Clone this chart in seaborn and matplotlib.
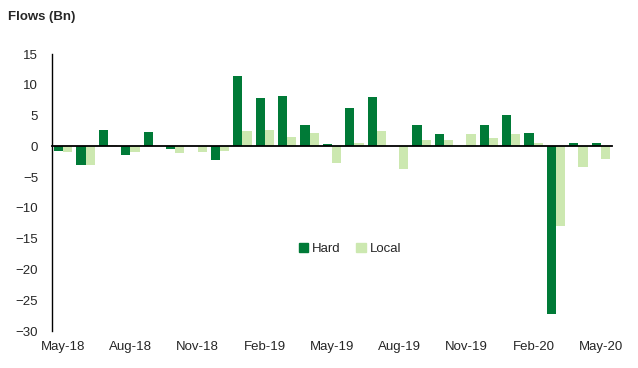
import numpy as np
import pandas as pd
import matplotlib
matplotlib.use("Agg")
import matplotlib.pyplot as plt
import matplotlib.transforms as mtransforms
import seaborn as sns

# Datos (flujos mensuales, miles de millones)
months = ["May-18", "Jun-18", "Jul-18", "Aug-18", "Sep-18", "Oct-18", "Nov-18",
          "Dec-18", "Jan-19", "Feb-19", "Mar-19", "Apr-19", "May-19", "Jun-19",
          "Jul-19", "Aug-19", "Sep-19", "Oct-19", "Nov-19", "Dec-19", "Jan-20",
          "Feb-20", "Mar-20", "Apr-20", "May-20"]
hard = [-0.75, -3.0, 2.65, -1.4, 2.3, -0.45, 0.0, -2.25, 11.4, 7.8, 8.2, 3.5, 0.4,
        6.2, 8.0, 0.0, 3.4, 1.95, 0.0, 3.4, 5.05, 2.1, -27.3, 0.5, 0.5]
local = [-1.0, -3.0, 0.15, -1.0, 0.0, -1.15, -0.92, -0.8, 2.5, 2.65, 1.5, 2.15, -2.7,
         0.55, 2.5, -3.7, 1.0, 1.0, 1.95, 1.3, 1.95, 0.5, -13.0, -3.35, -2.1]
tick_labels = ["May-18", "Aug-18", "Nov-18", "Feb-19", "May-19", "Aug-19",
               "Nov-19", "Feb-20", "May-20"]

df = pd.DataFrame({"month": months * 2,
                   "value": hard + local,
                   "type": ["Hard"] * len(months) + ["Local"] * len(months)})

sns.set_style("white")
plt.rcParams["font.family"] = ["Liberation Sans", "DejaVu Sans"]

fig = plt.figure(figsize=(6.38, 3.68), dpi=100)
ax = fig.add_axes([52 / 638, 1 - 331 / 368, 560 / 638, 277 / 368])

sns.barplot(data=df, x="month", y="value", hue="type", order=months,
            palette={"Hard": "#007A37", "Local": "#CCE8B0"},
            width=0.82, saturation=1, linewidth=0, ax=ax, legend=False)

ax.set_xlim(-0.5, len(months) - 0.5)
ax.set_ylim(-30, 15)
ax.set_yticks(np.arange(-30, 16, 5))
ax.tick_params(axis="y", length=0, pad=10, labelsize=9.5)
ax.set_xlabel("")
ax.set_ylabel("")

# eje x en cero, marcas entre categorías cada 3 meses
for s in ["top", "right"]:
    ax.spines[s].set_visible(False)
ax.spines["left"].set_color("black")
ax.spines["left"].set_linewidth(1)
ax.spines["bottom"].set_position(("data", 0))
ax.spines["bottom"].set_color("black")
ax.spines["bottom"].set_linewidth(1.3)
ax.set_xticks(np.arange(2.5, len(months), 3))
ax.set_xticklabels([])
ax.tick_params(axis="x", direction="out", length=4, width=1, color="black")

trans = mtransforms.blended_transform_factory(ax.transData, ax.transAxes)
for i, lab in enumerate(tick_labels):
    ax.text(i * 3, -0.035, lab, transform=trans, ha="center", va="top", fontsize=9.5)

fig.text(8 / 638, 1 - 17 / 368, "Flows (Bn)", fontsize=9.5, fontweight="bold",
         ha="left", va="center")

handles = [plt.Rectangle((0, 0), 1, 1, color="#007A37"),
           plt.Rectangle((0, 0), 1, 1, color="#CCE8B0")]
fig.legend(handles, ["Hard", "Local"], loc="center", bbox_to_anchor=(350 / 638, 1 - 249 / 368),
           ncol=2, frameon=False, fontsize=9.5, handlelength=0.7, handleheight=0.7,
           handletextpad=0.3, columnspacing=1.2)

fig.savefig("out.png", dpi=100)
